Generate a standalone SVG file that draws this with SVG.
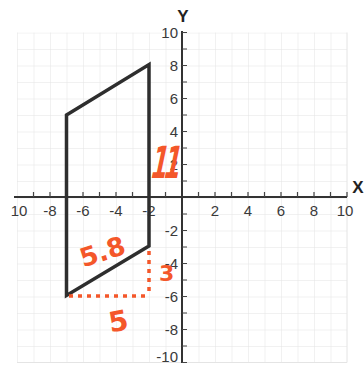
<svg xmlns="http://www.w3.org/2000/svg" width="364" height="367" viewBox="0 0 364 367">
<style>
.lbl{font-family:"Liberation Sans",Arial,sans-serif;font-size:15px;fill:#3a3a3a}
.ax{font-family:"Liberation Sans",Arial,sans-serif;font-size:17px;font-weight:bold;fill:#222}
.hand{font-family:"DejaVu Sans",sans-serif;font-weight:bold;fill:#f4572a}
.axis{stroke:#333;stroke-width:2;fill:none}
.tick{stroke:#444;stroke-width:1.2}
.dot{stroke:#f4572a;stroke-width:3.5;stroke-dasharray:4 5;fill:none}
</style>
<defs>
<pattern id="grid" x="17" y="32.5" width="16.5" height="16.5" patternUnits="userSpaceOnUse">
<path d="M0 0H16.5M0 0V16.5" stroke="#e4e4e4" stroke-width="1" fill="none"/>
</pattern>
</defs>
<rect width="364" height="367" fill="#fff"/>
<rect x="17" y="32.5" width="330" height="330" fill="url(#grid)"/>
<path d="M17 362.5H347M347 32.5V362.5" stroke="#e4e4e4" stroke-width="1"/>
<g id="axes">
<line class="axis" x1="14" y1="197" x2="347" y2="197"/>
<line class="axis" x1="182" y1="31" x2="182" y2="363"/>
<path class="tick" d="M33.5 197v-5M50 197v-5M66.5 197v-5M83 197v-5M99.5 197v-5M116 197v-5M132.5 197v-5M149 197v-5M165.5 197v-5M198.5 197v-5M215 197v-5M231.5 197v-5M248 197v-5M264.5 197v-5M281 197v-5M297.5 197v-5M314 197v-5M330.5 197v-5M347 197v-5"/>
<path class="tick" d="M182 32.5h5M182 49h5M182 65.5h5M182 82h5M182 98.5h5M182 115h5M182 131.5h5M182 148h5M182 164.5h5M182 181h5M182 214h5M182 230.5h5M182 247h5M182 263.5h5M182 280h5M182 296.5h5M182 313h5M182 329.5h5M182 346h5M182 362.5h5"/>
<text class="ax" x="183" y="22" text-anchor="middle">Y</text>
<text class="ax" x="358" y="193" text-anchor="middle">X</text>
</g>
<g id="ylabels" class="lbl" text-anchor="end">
<text x="178" y="38">10</text>
<text x="178" y="71">8</text>
<text x="178" y="104">6</text>
<text x="178" y="137">4</text>
<text x="178" y="170">2</text>
<text x="178" y="236">-2</text>
<text x="178" y="269">-4</text>
<text x="178" y="302">-6</text>
<text x="178" y="335">-8</text>
<text x="178" y="362">-10</text>
</g>
<g id="xlabels" class="lbl" text-anchor="middle">
<text x="19" y="216">10</text>
<text x="50" y="216">-8</text>
<text x="83" y="216">-6</text>
<text x="116" y="216">-4</text>
<text x="149" y="216">-2</text>
<text x="215" y="216">2</text>
<text x="248" y="216">4</text>
<text x="281" y="216">6</text>
<text x="314" y="216">8</text>
<text x="345" y="216">10</text>
</g>
<g id="parallelogram">
<polygon points="66.5,115 149,64.5 149,246 66.5,295.5" fill="none" stroke="#2e2e2e" stroke-width="3.5" stroke-linejoin="miter"/>
</g>
<g id="connectors">
<path class="dot" d="M69 296H149"/>
<path class="dot" d="M149 251V296"/>
</g>
<g id="annotations">
<text class="hand" font-size="34" letter-spacing="-5" transform="translate(149 178) skewX(-12) scale(0.7 1.3)">11</text>
<text class="hand" x="78" y="262" font-size="26" transform="rotate(-18 98 248)">5.8</text>
<text class="hand" x="159" y="281" font-size="22">3</text>
<text class="hand" x="108" y="331" font-size="28" transform="rotate(-10 118 318)">5</text>
</g>
</svg>
